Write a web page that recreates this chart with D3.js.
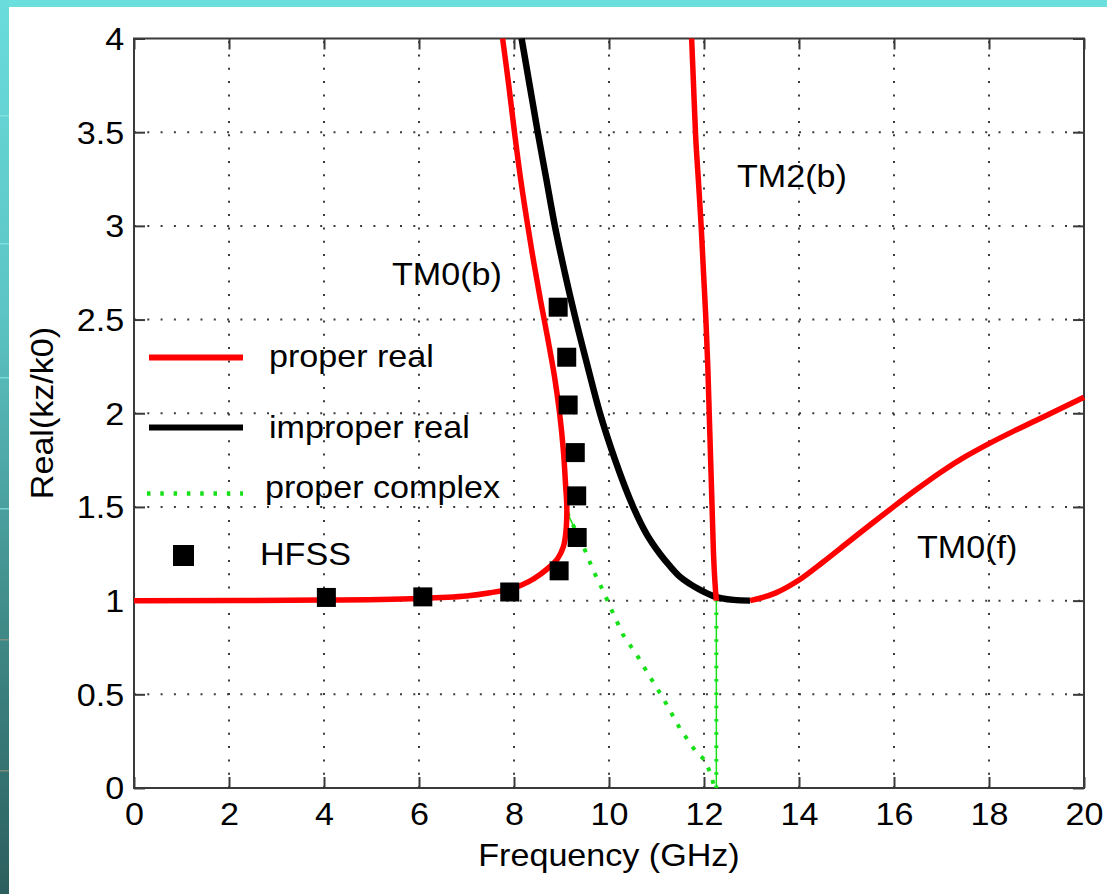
<!DOCTYPE html>
<html>
<head>
<meta charset="utf-8">
<script src="https://cdn.jsdelivr.net/npm/d3@7"></script>
<style>
  html, body { margin: 0; padding: 0; background: #ffffff; }
  svg { display: block; }
</style>
</head>
<body>
<svg id="chart" width="1107" height="894"></svg>
<script>
// ---- Axis ticks ----
const xTicks = [0, 2, 4, 6, 8, 10, 12, 14, 16, 18, 20];
const xTickLabels = ["0", "2", "4", "6", "8", "10", "12", "14", "16", "18", "20"];
const yTicks = [0, 0.5, 1, 1.5, 2, 2.5, 3, 3.5, 4];
const yTickLabels = ["0", "0.5", "1", "1.5", "2", "2.5", "3", "3.5", "4"];

// ---- TM0(b), proper real branch (frequency GHz, Re(kz/k0)) ----
const tm0bFreq = [0, 4.0, 6.0, 7.0, 7.5, 8.0, 8.3, 8.55, 8.75, 8.92, 9.04, 9.09, 9.11,
                  9.11, 9.09, 9.04, 8.96, 8.85, 8.71, 8.56, 8.42, 8.29, 8.14, 8.01, 7.89, 7.76];
const tm0bReal = [1.0, 1.003, 1.012, 1.025, 1.042, 1.068, 1.1, 1.14, 1.18, 1.225, 1.288, 1.36, 1.44,
                  1.52, 1.6, 1.8, 2.0, 2.2, 2.4, 2.6, 2.8, 3.0, 3.25, 3.5, 3.75, 4.0];

// ---- Improper real branch ----
const improperFreq = [8.16, 8.33, 8.50, 8.68, 8.86, 9.07, 9.30, 9.55, 9.81, 10.13, 10.51,
                      10.78, 11.07, 11.28, 11.49, 11.71, 11.92, 12.2, 12.62, 12.97];
const improperReal = [4.0, 3.75, 3.5, 3.25, 3.0, 2.75, 2.5, 2.25, 2.0, 1.75, 1.5,
                      1.36, 1.25, 1.185, 1.128, 1.088, 1.057, 1.024, 1.004, 1.0];

// ---- TM0(f), proper real branch ----
const tm0fFreq = [12.97, 13.5, 14.0, 14.5, 15.0, 15.5, 16.0, 16.5, 17.0, 17.5, 18.0, 18.5, 19.0, 19.5, 20.0];
const tm0fReal = [1.0, 1.04, 1.11, 1.205, 1.305, 1.405, 1.503, 1.598, 1.688, 1.768, 1.838, 1.902, 1.963, 2.024, 2.085];

// ---- TM2(b), proper real branch ----
const tm2bFreq = [11.74, 11.78, 11.82, 11.88, 11.94, 11.99, 12.04, 12.08, 12.11, 12.14, 12.17, 12.20, 12.23, 12.26];
const tm2bReal = [4.0, 3.75, 3.5, 3.25, 3.0, 2.75, 2.5, 2.25, 2.0, 1.75, 1.5, 1.25, 1.1, 1.0];

// ---- Proper complex branches ----
const complexFreq = [9.12, 9.25, 9.46, 9.67, 9.88, 10.09, 10.30, 10.61, 10.86, 11.14, 11.49, 11.84, 12.02, 12.15, 12.22];
const complexReal = [1.47, 1.40, 1.29, 1.16, 1.05, 0.93, 0.816, 0.70, 0.594, 0.479, 0.319, 0.19, 0.149, 0.07, 0.0];
const complexVertFreq = [12.26, 12.26];
const complexVertReal = [0.0, 1.0];

// ---- HFSS simulation points ----
const hfssFreq = [4.05, 6.08, 7.91, 8.95, 9.33, 9.32, 9.29, 9.14, 9.11, 8.93];
const hfssReal = [1.017, 1.02, 1.046, 1.159, 1.337, 1.559, 1.79, 2.044, 2.299, 2.566];

// ---- Text labels ----
const xTitle = "Frequency (GHz)";
const yTitle = "Real(kz/k0)";
const legendNames = ["proper real", "improper real", "proper complex", "HFSS"];
const modeNames = ["TM0(b)", "TM2(b)", "TM0(f)"];

const W = 1107, H = 894;
const plot = { left: 134, right: 1084, top: 38.5, bottom: 788 };
const FONT = "'Liberation Sans', Arial, Helvetica, sans-serif";
const FS = 31;       // font size
const SX = 1.1;      // horizontal glyph stretch

const svg = d3.select("#chart");

// ---- slide background edges ----
const defs = svg.append("defs");
const lg = defs.append("linearGradient").attr("id", "edge").attr("x1", 0).attr("y1", 0).attr("x2", 0).attr("y2", 1);
lg.append("stop").attr("offset", "0%").attr("stop-color", "#6adcdc");
lg.append("stop").attr("offset", "35%").attr("stop-color", "#5cc4c4");
lg.append("stop").attr("offset", "70%").attr("stop-color", "#3f8a88");
lg.append("stop").attr("offset", "100%").attr("stop-color", "#2c5f5e");
svg.append("rect").attr("width", W).attr("height", H).attr("fill", "#ffffff");
svg.append("rect").attr("x", 0).attr("y", 0).attr("width", W).attr("height", 7).attr("fill", "#6bdede");
svg.append("rect").attr("x", 0).attr("y", 0).attr("width", 9).attr("height", H).attr("fill", "url(#edge)");
[115, 243, 377, 508].forEach(yy =>
  svg.append("rect").attr("x", 0).attr("y", yy).attr("width", 9).attr("height", 1.5).attr("fill", "#8ee8e8").attr("opacity", 0.7));
[639, 770].forEach(yy =>
  svg.append("rect").attr("x", 0).attr("y", yy).attr("width", 9).attr("height", 1.5).attr("fill", "#9a9a80").attr("opacity", 0.7));

// ---- scales ----
const x = d3.scaleLinear().domain([0, 20]).range([plot.left, plot.right]);
const y = d3.scaleLinear().domain([0, 4]).range([plot.bottom, plot.top]);

// ---- grid ----
const grid = svg.append("g").attr("stroke", "#3c3c3c").attr("stroke-width", 2).attr("stroke-dasharray", "2,11.3");
xTicks.filter(d => d > 0 && d < 20).forEach(d =>
  grid.append("line").attr("x1", x(d)).attr("x2", x(d)).attr("y1", plot.bottom).attr("y2", plot.top));
yTicks.filter(d => d > 0 && d < 4).forEach(d =>
  grid.append("line").attr("x1", plot.left).attr("x2", plot.right).attr("y1", y(d)).attr("y2", y(d)));

// ---- axes (inward ticks on all four sides) ----
const TL = 11;
function styleAxis(g) {
  g.select(".domain").remove();
  g.selectAll(".tick line").attr("stroke", "#3a3a3a").attr("stroke-width", 2);
  g.selectAll(".tick text").attr("fill", "#000").attr("font-family", FONT).attr("font-size", FS);
}
const xFmt = d => xTickLabels[xTicks.indexOf(d)];
const yFmt = d => yTickLabels[yTicks.indexOf(d)];

const gB = svg.append("g").attr("transform", `translate(0,${plot.bottom})`)
  .call(d3.axisBottom(x).tickValues(xTicks).tickFormat(xFmt).tickSizeInner(-TL).tickSizeOuter(0).tickPadding(15));
styleAxis(gB);
gB.selectAll(".tick text").attr("transform", `scale(${SX},1)`);

const gT = svg.append("g").attr("transform", `translate(0,${plot.top})`)
  .call(d3.axisTop(x).tickValues(xTicks).tickFormat("").tickSizeInner(-TL).tickSizeOuter(0));
styleAxis(gT);

const gL = svg.append("g").attr("transform", `translate(${plot.left},0)`)
  .call(d3.axisLeft(y).tickValues(yTicks).tickFormat(yFmt).tickSizeInner(-TL).tickSizeOuter(0).tickPadding(9));
styleAxis(gL);
gL.selectAll(".tick text").attr("transform", `scale(${SX},1)`).attr("dy", "0.35em");

const gR = svg.append("g").attr("transform", `translate(${plot.right},0)`)
  .call(d3.axisRight(y).tickValues(yTicks).tickFormat("").tickSizeInner(-TL).tickSizeOuter(0));
styleAxis(gR);

// axes box
svg.append("rect")
  .attr("x", plot.left).attr("y", plot.top)
  .attr("width", plot.right - plot.left).attr("height", plot.bottom - plot.top)
  .attr("fill", "none").attr("stroke", "#3a3a3a").attr("stroke-width", 2);

// ---- curves ----
const zip = (fs, vs) => fs.map((f, i) => [f, vs[i]]);
const smooth = d3.line().x(d => x(d[0])).y(d => y(d[1])).curve(d3.curveCatmullRom.alpha(0.5));
const mono = d3.line().x(d => x(d[0])).y(d => y(d[1])).curve(d3.curveMonotoneX);
const straight = d3.line().x(d => x(d[0])).y(d => y(d[1]));

const curves = svg.append("g").attr("fill", "none").attr("stroke-linejoin", "round");

// proper complex (green dotted)
curves.append("path").attr("d", straight(zip(complexFreq, complexReal)))
  .attr("stroke", "#16e016").attr("stroke-width", 4).attr("stroke-dasharray", "4,9.3");
curves.append("path").attr("d", straight(zip(complexFreq.slice(0, 3), complexReal.slice(0, 3))))
  .attr("stroke", "#16e016").attr("stroke-width", 1.5);
curves.append("path").attr("d", straight(zip(complexVertFreq, complexVertReal)))
  .attr("stroke", "#16e016").attr("stroke-width", 1.5);
curves.append("path").attr("d", straight(zip(complexVertFreq, complexVertReal)))
  .attr("stroke", "#16e016").attr("stroke-width", 4).attr("stroke-dasharray", "2.5,10.8");

// improper real (black)
curves.append("path").attr("d", mono(zip(improperFreq, improperReal)))
  .attr("stroke", "#000").attr("stroke-width", 6.5);

// proper real (red)
curves.append("path").attr("d", smooth(zip(tm0bFreq, tm0bReal)))
  .attr("stroke", "#ff0000").attr("stroke-width", 5.5);
curves.append("path").attr("d", mono(zip(tm2bFreq, tm2bReal)))
  .attr("stroke", "#ff0000").attr("stroke-width", 5.5);
curves.append("path").attr("d", mono(zip(tm0fFreq, tm0fReal)))
  .attr("stroke", "#ff0000").attr("stroke-width", 5.5);

// HFSS squares
const SQ = 19;
svg.append("g").selectAll("rect").data(zip(hfssFreq, hfssReal)).join("rect")
  .attr("x", d => x(d[0]) - SQ / 2).attr("y", d => y(d[1]) - SQ / 2)
  .attr("width", SQ).attr("height", SQ).attr("fill", "#000");

// ---- text helper ----
function addText(px, py, str, anchor = "start", extra = "") {
  return svg.append("text")
    .attr("transform", `translate(${px},${py}) ${extra} scale(${SX},1)`)
    .attr("text-anchor", anchor)
    .attr("font-family", FONT).attr("font-size", FS).attr("fill", "#000")
    .text(str);
}

// axis titles
addText((plot.left + plot.right) / 2, 866, xTitle, "middle");
addText(53, 413, yTitle, "middle", "rotate(-90)");

// mode labels
addText(392, 285, modeNames[0]);
addText(737, 187, modeNames[1]);
addText(917, 558, modeNames[2]);

// ---- legend ----
const leg = svg.append("g");
leg.append("line").attr("x1", 149).attr("x2", 243).attr("y1", 357.5).attr("y2", 357.5)
  .attr("stroke", "#ff0000").attr("stroke-width", 6);
leg.append("line").attr("x1", 149).attr("x2", 243).attr("y1", 427.5).attr("y2", 427.5)
  .attr("stroke", "#000").attr("stroke-width", 6);
leg.append("line").attr("x1", 147).attr("x2", 243).attr("y1", 493.5).attr("y2", 493.5)
  .attr("stroke", "#16e016").attr("stroke-width", 4.5).attr("stroke-dasharray", "3.5,9.8");
leg.append("rect").attr("x", 173).attr("y", 545).attr("width", 21).attr("height", 21).attr("fill", "#000");

addText(269, 367, legendNames[0]);
addText(269, 438, legendNames[1]);
addText(265, 498, legendNames[2]);
addText(260, 565, legendNames[3]);
</script>
</body>
</html>
